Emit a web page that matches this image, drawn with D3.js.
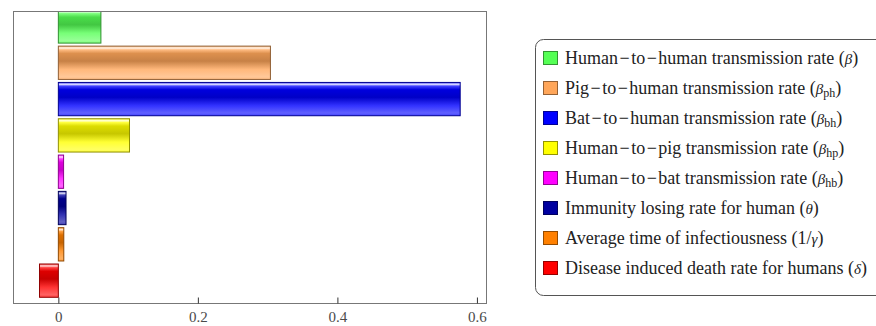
<!DOCTYPE html>
<html>
<head>
<meta charset="utf-8">
<script src="https://cdn.jsdelivr.net/npm/d3@7"></script>
<style>
  body { margin: 0; background: #fff; }
  svg { display: block; }
</style>
</head>
<body>
<div id="chart"></div>
<script>
// parameter names, symbols and sensitivity values (top bar first)
var labels = [
    'Human\u200a\u2212\u200ato\u200a\u2212\u200ahuman transmission rate',
    'Pig\u200a\u2212\u200ato\u200a\u2212\u200ahuman transmission rate',
    'Bat\u200a\u2212\u200ato\u200a\u2212\u200ahuman transmission rate',
    'Human\u200a\u2212\u200ato\u200a\u2212\u200apig transmission rate',
    'Human\u200a\u2212\u200ato\u200a\u2212\u200abat transmission rate',
    'Immunity losing rate for human',
    'Average time of infectiousness',
    'Disease induced death rate for humans'
];
var symbols = ['\u03b2', '\u03b2', '\u03b2', '\u03b2', '\u03b2', '\u03b8', '\u03b3', '\u03b4'];
var subs = ['', 'ph', 'bh', 'hp', 'hb', '', '', ''];
var prefixes = ['', '', '', '', '', '', '1/', ''];
var values = [0.061, 0.304, 0.576, 0.102, 0.0075, 0.011, 0.0078, -0.027];
var xTicks = [0, 0.2, 0.4, 0.6];

// palette
var colors = ['#55ff55', '#ffa65a', '#0000ff', '#ffff00', '#ff00ff', '#0000a0', '#ff8000', '#ff0000'];

var width = 876, height = 326;
var frame = {left: 13, top: 11, right: 486, bottom: 303};
var serifFont = "'Liberation Serif', 'DejaVu Serif', 'Times New Roman', serif";

var svg = d3.select('#chart').append('svg')
    .attr('width', width)
    .attr('height', height);

var defs = svg.append('defs');

// Scales setup
var xScale = d3.scaleLinear().domain([-0.065, 0.613]).range([frame.left, frame.right]);
var yScale = d3.scaleBand().domain(d3.range(values.length))
    .range([8.3, 298.8]).paddingInner(0.083).paddingOuter(0.0415);

// glass-like gradients, one per colour
colors.forEach(function(c, i) {
    var base = d3.rgb(c);
    var g = defs.append('linearGradient').attr('id', 'glass' + i)
        .attr('x1', 0).attr('x2', 0).attr('y1', 0).attr('y2', 1);
    var stops = [
        [0.00, d3.interpolateRgb(base, '#fff')(0.3)],
        [0.06, d3.interpolateRgb(base, '#fff')(0.85)],
        [0.11, d3.interpolateRgb(base, '#fff')(0.25)],
        [0.22, base.darker(0.4)],
        [0.45, base.darker(0.7)],
        [0.70, d3.interpolateRgb(base, '#fff')(0.2)],
        [0.92, d3.interpolateRgb(base, '#fff')(0.38)],
        [1.00, d3.interpolateRgb(base, '#fff')(0.25)]
    ];
    stops.forEach(function(s) {
        g.append('stop').attr('offset', s[0]).attr('stop-color', s[1]);
    });
});

defs.append('clipPath').attr('id', 'plotclip').append('rect')
    .attr('x', frame.left).attr('y', frame.top)
    .attr('width', frame.right - frame.left).attr('height', frame.bottom - frame.top);

// bars
svg.append('g').attr('clip-path', 'url(#plotclip)')
    .selectAll('rect').data(values).enter().append('rect')
    .attr('x', function(d) { return Math.min(xScale(0), xScale(d)); })
    .attr('width', function(d) { return Math.abs(xScale(d) - xScale(0)); })
    .attr('y', function(d, i) { return yScale(i); })
    .attr('height', yScale.bandwidth())
    .attr('fill', function(d, i) { return 'url(#glass' + i + ')'; })
    .attr('stroke', function(d, i) { return d3.rgb(colors[i]).darker(1.6); })
    .attr('stroke-width', 1);

// frame
svg.append('rect')
    .attr('x', frame.left + 0.5).attr('y', frame.top + 0.5)
    .attr('width', frame.right - frame.left).attr('height', frame.bottom - frame.top)
    .attr('fill', 'none').attr('stroke', '#777').attr('stroke-width', 1);

// bottom axis, ticks pointing inward
var xAxis = d3.axisBottom(xScale).tickValues(xTicks).tickSize(-6).tickPadding(8)
    .tickFormat(function(d) { return d === 0 ? '0' : d3.format('.1f')(d); });
svg.append('g').attr('transform', 'translate(0,' + (frame.bottom + 0.5) + ')')
    .call(xAxis)
    .attr('font-family', serifFont)
    .attr('font-size', 15)
    .call(function(g) { g.select('.domain').remove(); })
    .call(function(g) { g.selectAll('.tick line').attr('stroke', '#333'); })
    .call(function(g) { g.selectAll('.tick text').attr('fill', '#4a4a4a'); });

// legend
var legend = svg.append('g');
legend.append('rect')
    .attr('x', 535.5).attr('y', 39.5).attr('width', 360).attr('height', 256)
    .attr('rx', 8).attr('ry', 8)
    .attr('fill', '#fff').attr('stroke', '#555').attr('stroke-width', 1);

var item = legend.selectAll('g.item').data(labels).enter().append('g')
    .attr('class', 'item')
    .attr('transform', function(d, i) { return 'translate(0,' + (58 + i * 30) + ')'; });

item.append('rect')
    .attr('x', 543.5).attr('y', -6.5).attr('width', 14).attr('height', 13)
    .attr('fill', function(d, i) { return colors[i]; })
    .attr('stroke', function(d, i) { return d3.rgb(colors[i]).darker(1.5); });

var txt = item.append('text')
    .attr('x', 565).attr('y', 6)
    .attr('font-family', serifFont)
    .attr('font-size', 18)
    .attr('fill', '#222');
txt.append('tspan').text(function(d, i) { return d + ' (' + prefixes[i]; });
txt.append('tspan').attr('font-style', 'italic').attr('font-size', 15)
    .text(function(d, i) { return symbols[i]; });
txt.append('tspan').attr('font-size', 12).attr('dy', 3)
    .text(function(d, i) { return subs[i]; });
txt.append('tspan').attr('dy', function(d, i) { return subs[i] ? -3 : 0; })
    .text(')');
</script>
</body>
</html>
